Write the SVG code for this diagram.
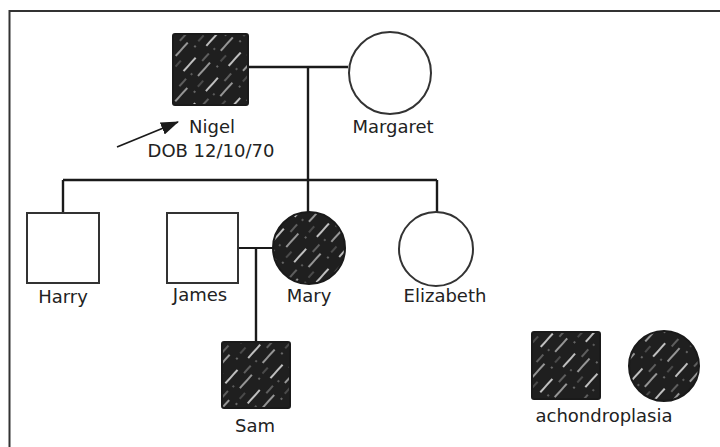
<svg xmlns="http://www.w3.org/2000/svg" width="720" height="447" viewBox="0 0 720 447">
<style>
text{font-family:"DejaVu Sans","Liberation Sans",sans-serif;font-size:18px;fill:#222}
.m{text-anchor:middle}
.open{fill:#fff;stroke:#333;stroke-width:2}
.aff{fill:url(#hatch);stroke:#1a1a1a;stroke-width:2}
.ln{stroke:#1a1a1a;stroke-width:2.4;fill:none}
</style>
<defs>
<pattern id="hatch" patternUnits="userSpaceOnUse" width="34" height="30" patternTransform="rotate(-48)">
<rect width="34" height="30" fill="#1f1f1f"/>
<line x1="2" y1="4" x2="20" y2="4" stroke="#f2f2f2" stroke-width="1.8" opacity="0.85"/>
<line x1="22" y1="11" x2="32" y2="11" stroke="#aaa" stroke-width="1.3" opacity="0.7"/>
<line x1="8" y1="18" x2="26" y2="18" stroke="#fff" stroke-width="1.5" opacity="0.7"/>
<line x1="0" y1="25" x2="8" y2="25" stroke="#777" stroke-width="1.2" opacity="0.8"/>
<circle cx="28" cy="26" r="0.9" fill="#888"/>
<circle cx="5" cy="12" r="0.9" fill="#777"/>
</pattern>
<marker id="ah" viewBox="0 0 18 13" refX="17" refY="6.5" markerWidth="18" markerHeight="13" markerUnits="userSpaceOnUse" orient="auto">
<path d="M0,0 L18,6.5 L0,13 z" fill="#1a1a1a"/>
</marker>
</defs>
<rect width="720" height="447" fill="#fff"/>
<g id="frame">
<path d="M9.5,447 V11 H720" fill="none" stroke="#333" stroke-width="2"/>
</g>
<g id="connectors">
<line class="ln" x1="248" y1="67" x2="348" y2="67"/>
<line class="ln" x1="308" y1="67" x2="308" y2="213"/>
<line class="ln" x1="63" y1="180" x2="437" y2="180"/>
<line class="ln" x1="63" y1="180" x2="63" y2="213"/>
<line class="ln" x1="437" y1="180" x2="437" y2="213"/>
<line class="ln" x1="238" y1="248" x2="273" y2="248" style="stroke-width:1.8"/>
<line class="ln" x1="256" y1="248" x2="256" y2="342"/>
<line x1="117" y1="147" x2="178" y2="122" stroke="#1a1a1a" stroke-width="1.8" marker-end="url(#ah)"/>
</g>
<g id="nigel">
<rect class="aff" x="173" y="34" width="75" height="71" rx="2"/>
<text class="m" x="212" y="133">Nigel</text>
<text class="m" x="211" y="157">DOB 12/10/70</text>
</g>
<g id="margaret">
<circle class="open" cx="390" cy="73" r="41"/>
<text class="m" x="393" y="133">Margaret</text>
</g>
<g id="harry">
<rect class="open" x="27" y="213" width="72" height="70"/>
<text class="m" x="63" y="303">Harry</text>
</g>
<g id="james">
<rect class="open" x="167" y="213" width="71" height="70"/>
<text class="m" x="200" y="301">James</text>
</g>
<g id="mary">
<circle class="aff" cx="309" cy="248" r="36"/>
<text class="m" x="309" y="302">Mary</text>
</g>
<g id="elizabeth">
<circle class="open" cx="436" cy="249" r="37"/>
<text class="m" x="445" y="302">Elizabeth</text>
</g>
<g id="sam">
<rect class="aff" x="222" y="342" width="68" height="66" rx="2"/>
<text class="m" x="255" y="432">Sam</text>
</g>
<g id="legend">
<rect class="aff" x="532" y="332" width="68" height="67" rx="2"/>
<circle class="aff" cx="664" cy="366" r="35"/>
<text class="m" x="604" y="422">achondroplasia</text>
</g>
</svg>
